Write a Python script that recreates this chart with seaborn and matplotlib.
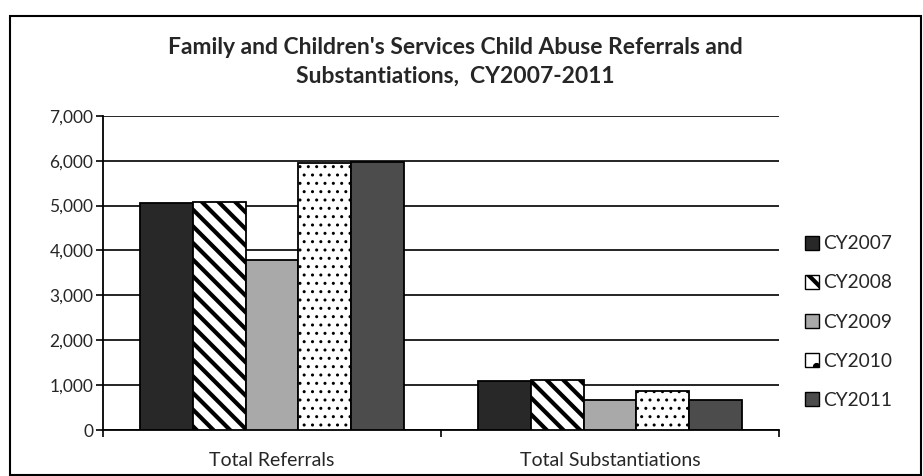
import matplotlib
matplotlib.use("Agg")
import matplotlib.pyplot as plt
import seaborn as sns
import pandas as pd
from matplotlib.patches import Rectangle, Patch
from matplotlib.ticker import FuncFormatter, MultipleLocator

categories = ["Total Referrals", "Total Substantiations"]
years = ["CY2007", "CY2008", "CY2009", "CY2010", "CY2011"]
referrals = [5060, 5080, 3780, 5950, 5980]
substantiations = [1090, 1110, 680, 880, 670]

rows = []
for y, r, s in zip(years, referrals, substantiations):
    rows.append({"category": categories[0], "year": y, "value": r})
    rows.append({"category": categories[1], "year": y, "value": s})
df = pd.DataFrame(rows)

sns.set_style("white")
plt.rcParams["font.family"] = ["Lato", "DejaVu Sans"]
plt.rcParams["hatch.linewidth"] = 3.0

fig = plt.figure(figsize=(9.23, 4.76), dpi=100)
ax = fig.add_axes([0.1116, 0.0966, 0.7324, 0.660])

fills = ["#282828", "white", "#a9a9a9", "white", "#4c4c4c"]
hatches = [None, "\\\\", None, "..", None]
legend_hatches = [None, "\\", None, ".", None]
palette = dict(zip(years, fills))

sns.barplot(data=df, x="category", y="value", hue="year", hue_order=years,
            order=categories, palette=palette, width=0.78, ax=ax,
            edgecolor="black", linewidth=1.3, legend=False, zorder=3)

for cont, h in zip(ax.containers, hatches):
    for p in cont.patches:
        if h:
            p.set_hatch(h)
            if h == "..":
                p._hatch_linewidth = 1.0

ax.set_ylim(0, 7000)
ax.set_xlim(-0.5, 1.5)
ax.yaxis.set_major_locator(MultipleLocator(1000))
ax.yaxis.set_major_formatter(FuncFormatter(lambda v, _: f"{int(v):,}"))
ax.grid(axis="y", color="black", linewidth=1.2, zorder=0)
ax.set_axisbelow(True)
ax.set_xlabel("")
ax.set_ylabel("")
for s in ["top", "right"]:
    ax.spines[s].set_visible(False)
ax.spines["left"].set_color("black")
ax.spines["bottom"].set_color("black")
ax.spines["left"].set_linewidth(1.3)
ax.spines["bottom"].set_linewidth(1.3)
ax.tick_params(axis="y", left=True, length=5, width=1.2, color="black",
               labelsize=12.5, pad=2)
ax.tick_params(axis="x", which="major", bottom=False, labelsize=14, pad=12)
ax.set_xticks([-0.5, 0.5, 1.5], minor=True)
ax.tick_params(axis="x", which="minor", bottom=True, length=5, width=1.2,
               color="black")

handles = []
for f, h, y in zip(fills, legend_hatches, years):
    hp = Patch(facecolor=f, edgecolor="black", hatch=h if h else None, label=y)
    if h:
        hp._hatch_linewidth = 1.5
    handles.append(hp)
fig.legend(handles=handles, loc="center left", bbox_to_anchor=(0.853, 0.3235),
           frameon=False, fontsize=13.8, labelspacing=1.15, handlelength=0.75,
           handleheight=0.75, handletextpad=0.2)

fig.text(0.493, 0.870, "Family and Children's Services Child Abuse Referrals and\nSubstantiations,  CY2007-2011",
         ha="center", va="center", fontsize=16.5, fontweight="bold", linespacing=1.4)

fig.patches.append(Rectangle((0.011, 0.002), 0.987, 0.964, transform=fig.transFigure,
                             fill=False, edgecolor="black", linewidth=1.5))

fig.savefig("out.png", dpi=100)
